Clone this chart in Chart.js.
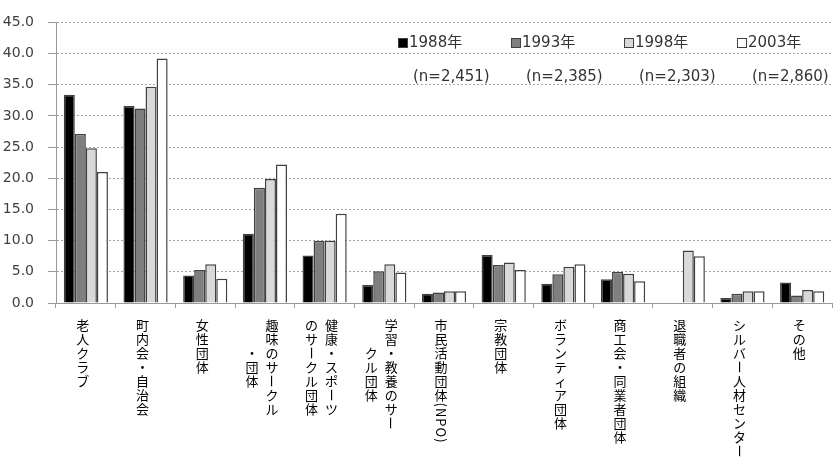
<!DOCTYPE html>
<html>
<head>
<meta charset="utf-8">
<script src="https://cdn.jsdelivr.net/npm/chart.js@4/dist/chart.umd.min.js"></script>
<style>
html,body{margin:0;padding:0;background:#fff;}
#wrap{width:836px;height:463px;}
</style>
</head>
<body>
<div id="wrap"><canvas id="c" width="836" height="463"></canvas></div>
<script>
// ---- data ----
const categories = [
  "老人クラブ", "町内会・自治会", "女性団体", "趣味のサークル\n・団体",
  "健康・スポーツ\nのサークル団体", "学習・教養のサー\nクル団体", "市民活動団体(NPO)",
  "宗教団体", "ボランティア団体", "商工会・同業者団体", "退職者の組織",
  "シルバー人材センター", "その他"
];
const seriesNames = ["1988年", "1993年", "1998年", "2003年"];
const sampleSizes = ["(n=2,451)", "(n=2,385)", "(n=2,303)", "(n=2,860)"];
const values1988 = [33.4, 31.6, 4.4, 11.1, 7.6, 2.9, 1.5, 7.7, 3.1, 3.8, null, 0.8, 3.3];
const values1993 = [27.1, 31.2, 5.3, 18.5, 10.0, 5.1, 1.7, 6.1, 4.6, 5.0, null, 1.5, 1.2];
const values1998 = [24.8, 34.7, 6.2, 19.9, 10.0, 6.2, 1.9, 6.5, 5.8, 4.7, 8.4, 1.9, 2.1];
const values2003 = [21.0, 39.2, 3.9, 22.2, 14.3, 4.9, 1.9, 5.3, 6.2, 3.5, 7.5, 1.9, 1.9];
const yMin = 0, yMax = 45, yStep = 5;

// ---- styles ----
const fills = ["#000000", "#7f7f7f", "#d9d9d9", "#ffffff"];
const edge = "#404040";
const seriesValues = [values1988, values1993, values1998, values2003];

// vertical (tategaki) category labels
const verticalLabels = {
  id: "verticalLabels",
  afterDraw(chart) {
    const ctx = chart.ctx;
    const xs = chart.scales.x;
    const pitch = 14, colGap = 20;
    ctx.save();
    ctx.font = "13px 'Noto Sans CJK JP'";
    ctx.fillStyle = "#000";
    ctx.textAlign = "center";
    ctx.textBaseline = "middle";
    const rotChars = /[\x20-\x7e]|ー/;
    categories.forEach((lab, i) => {
      const cx = xs.getPixelForValue(i) - 3;
      const cols = lab.split("\n");
      const heights = cols.map(col => [...col].reduce((h, ch) =>
        h + (/[\x20-\x7e]/.test(ch) ? ctx.measureText(ch).width + 1 : pitch), 0));
      const maxH = Math.max(...heights);
      cols.forEach((col, j) => {
        const x = cx + ((cols.length - 1) / 2 - j) * colGap;
        let y = xs.top + 15 + (cols.length > 1 ? (maxH - heights[j]) / 2 : 0);
        for (const ch of col) {
          const ascii = /[\x20-\x7e]/.test(ch);
          const adv = ascii ? ctx.measureText(ch).width + 1 : pitch;
          const cy = y + adv / 2;
          if (rotChars.test(ch)) {
            ctx.save();
            ctx.translate(x, cy);
            ctx.rotate(Math.PI / 2);
            ctx.fillText(ch, 0, 0);
            ctx.restore();
          } else {
            ctx.fillText(ch, x, cy);
          }
          y += adv;
        }
      });
    });
    ctx.restore();
  }
};

// in-plot legend with sample sizes
const customLegend = {
  id: "customLegend",
  afterDraw(chart) {
    const ctx = chart.ctx;
    const x0 = chart.chartArea.left + 342, dx = 113;
    const row1 = 43, row2 = 77;
    ctx.save();
    ctx.font = "15px 'DejaVu Sans', 'Noto Sans CJK JP'";
    ctx.textBaseline = "middle";
    ctx.textAlign = "left";
    seriesNames.forEach((name, i) => {
      const x = x0 + i * dx;
      ctx.fillStyle = fills[i];
      ctx.fillRect(x, row1 - 5, 10, 10);
      ctx.strokeStyle = edge;
      ctx.lineWidth = 1;
      ctx.strokeRect(x + 0.5, row1 - 4.5, 9, 9);
      ctx.fillStyle = "#333";
      ctx.fillText(name, x + 11, row1);
      ctx.fillText(sampleSizes[i], x + 15, row2);
    });
    ctx.restore();
  }
};

new Chart(document.getElementById("c"), {
  type: "bar",
  data: {
    labels: categories,
    datasets: seriesNames.map((n, i) => ({
      label: n,
      data: seriesValues[i],
      backgroundColor: fills[i],
      borderColor: edge,
      borderWidth: 1.5,
      barPercentage: 1,
      categoryPercentage: 0.74
    }))
  },
  options: {
    responsive: false,
    animation: false,
    layout: { padding: { left: 0, top: 15, right: 4, bottom: 0 } },
    plugins: { legend: { display: false }, tooltip: { enabled: false } },
    scales: {
      x: {
        ticks: { display: false },
        grid: { offset: true, drawOnChartArea: false, drawTicks: true, tickLength: 5, tickColor: "#999" },
        border: { color: "#999", width: 1 },
        afterFit(s) { s.height = 160; }
      },
      y: {
        min: yMin, max: yMax,
        ticks: {
          stepSize: yStep,
          padding: 14,
          color: "#404040",
          font: { family: "'DejaVu Sans'", size: 14 },
          callback: v => Number(v).toFixed(1)
        },
        grid: { color: "#a6a6a6", lineWidth: 1, tickLength: 8, tickColor: "#999", tickBorderDash: [] },
        border: { color: "#999", width: 1, dash: [2, 2] },
        afterFit(s) { s.width = 56; }
      }
    }
  },
  plugins: [verticalLabels, customLegend]
});
</script>
</body>
</html>
